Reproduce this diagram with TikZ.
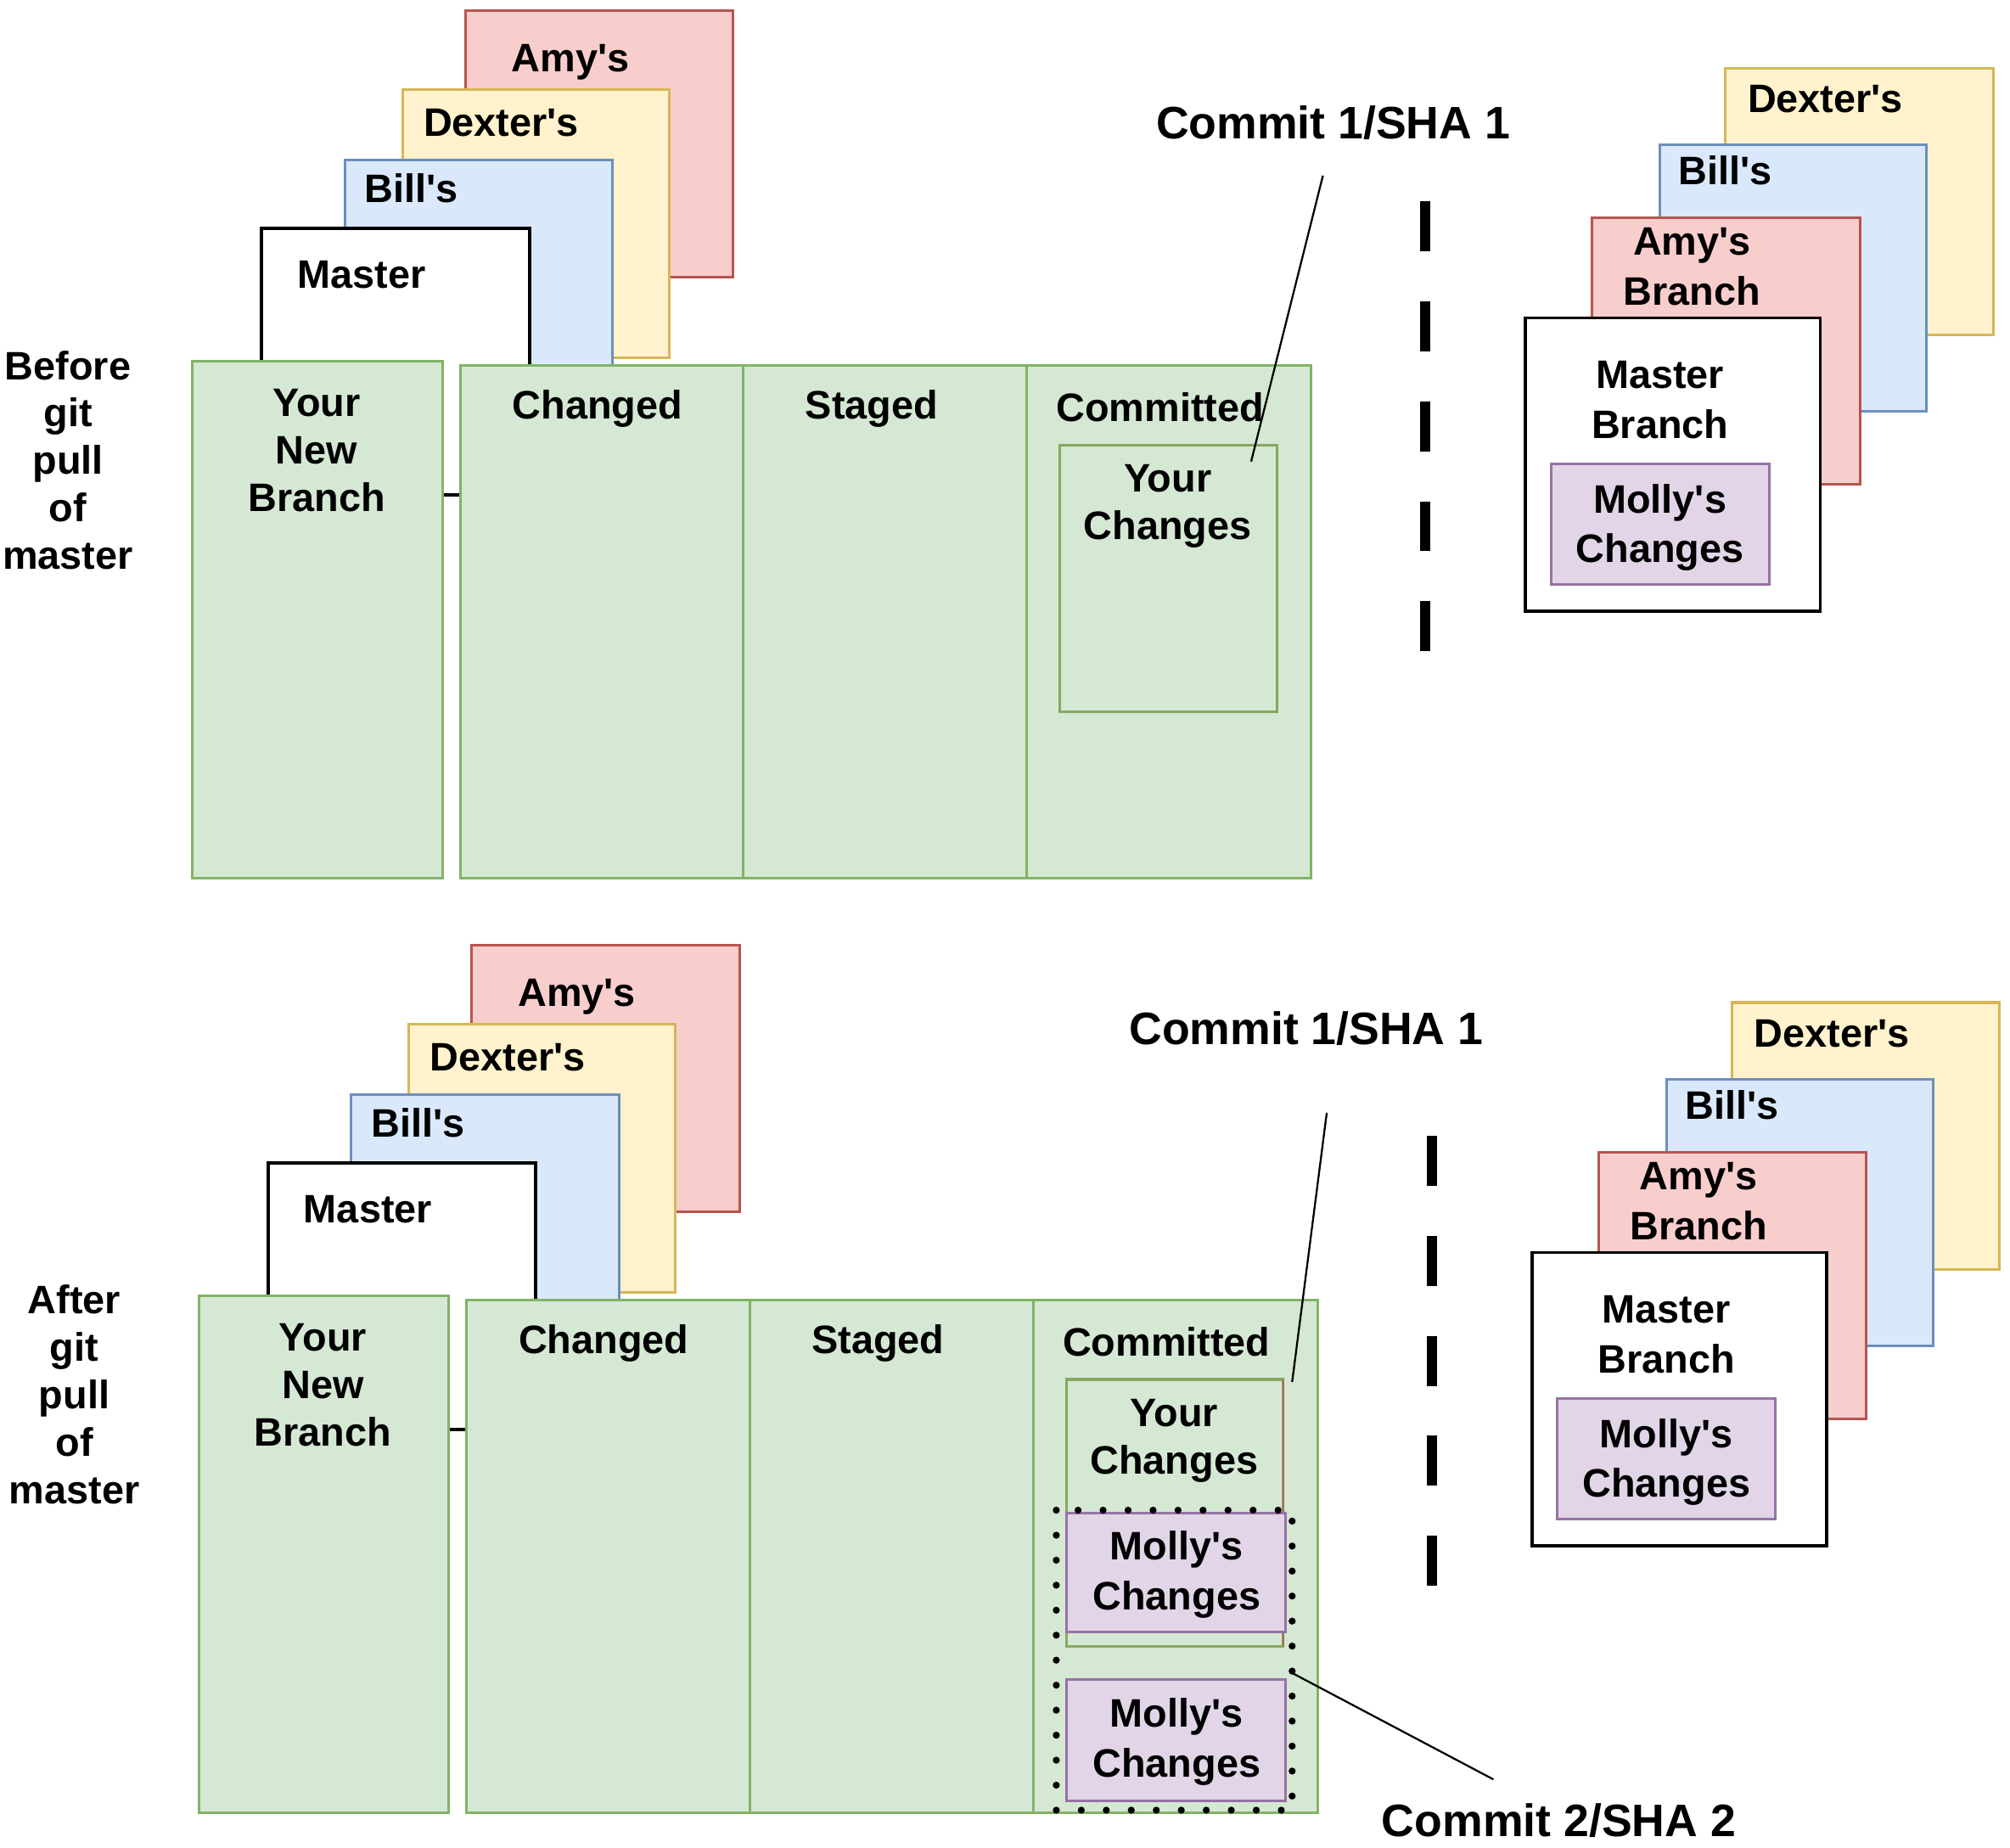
\documentclass[tikz,border=0pt]{standalone}
\usepackage{fontspec}
\setmainfont{Liberation Sans}[Ligatures=TeXOff]
\definecolor{redF}{HTML}{F8CECC}\definecolor{redD}{HTML}{B85450}
\definecolor{yelF}{HTML}{FFF2CC}\definecolor{yelD}{HTML}{D6B656}
\definecolor{bluF}{HTML}{DAE8FC}\definecolor{bluD}{HTML}{6C8EBF}
\definecolor{grnF}{HTML}{D5E8D4}\definecolor{grnD}{HTML}{82B366}
\definecolor{grnI}{HTML}{86A95E}
\definecolor{purF}{HTML}{E1D5E7}\definecolor{purD}{HTML}{9673A6}
\tikzset{
  card/.style={rectangle, anchor=north west, inner sep=0pt, outer sep=0pt, line width=2pt},
  redcard/.style={card, draw=redD, fill=redF},
  yelcard/.style={card, draw=yelD, fill=yelF},
  blucard/.style={card, draw=bluD, fill=bluF},
  grncard/.style={card, draw=grnD, fill=grnF},
  inncard/.style={card, draw=grnI, fill=grnF},
  purcard/.style={card, draw=purD, fill=purF},
  whtcard/.style={card, draw=black, fill=white, line width=2.5pt},
  % multi-line labels are placed by their last line
  lbl/.style={inner sep=0pt, align=center, font=\bfseries\fontsize{31}{37}\selectfont,
              text height=25pt, text depth=3pt},
  widelbl/.style={lbl, font=\bfseries\fontsize{31}{39}\selectfont},
  commitlbl/.style={inner sep=0pt, align=center, font=\bfseries\fontsize{35.5}{40}\selectfont,
              text height=28pt, text depth=3pt},
  leader/.style={draw=black, line width=1.5pt},
  divider/.style={draw=black, line width=8pt, dash pattern=on 39pt off 39pt},
  dotbox/.style={draw=black, line width=5.5pt, line cap=round, dash pattern=on 0pt off 19.5pt}
}
% One before/after panel: branch stacks, working-tree columns and remote stack
\newcommand\gitpanel[2]{%
  % local branches behind the working tree
  \node[redcard, minimum width=209, minimum height=208] (#1amy) at (363,8) {};
  \node[lbl] (#1amyL) at (445,45) {Amy's};
  \node[yelcard, minimum width=208, minimum height=209] (#1dex) at (314,70) {};
  \node[lbl] (#1dexL) at (391,95) {Dexter's};
  \node[blucard, minimum width=209, minimum height=208] (#1bil) at (269,125) {};
  \node[lbl] (#1bilL) at (321,147) {Bill's};
  \node[whtcard, minimum width=209, minimum height=208] (#1mas) at (204,178) {};
  \node[lbl] (#1masL) at (282,214) {Master};
  % working tree columns
  \node[grncard, minimum width=195, minimum height=403] (#1ynb) at (150,282) {};
  \node[lbl] (#1ynbL) at (247,388) {Your\\New\\Branch};
  \node[grncard, minimum width=221, minimum height=400] (#1chg) at (359,285) {};
  \node[lbl] (#1chgL) at (466,316) {Changed};
  \node[grncard, minimum width=221, minimum height=400] (#1stg) at (580,285) {};
  \node[lbl] (#1stgL) at (680,316) {Staged};
  \node[grncard, minimum width=222, minimum height=400] (#1cmt) at (801,285) {};
  \node[lbl] (#1cmtL) at (905,318) {Committed};
  \node[inncard, minimum width=169, minimum height=208] (#1yc) at (827,347) {};
  \node[lbl] (#1ycL) at (911,410) {Your\\Changes};
  % side caption
  \node[lbl] (#1side) at (53,433) {#2};
  % separator
  \coordinate (#1dvA) at (1112,157);
  \coordinate (#1dvB) at (1112,508);
  \draw[divider] (#1dvA) -- (#1dvB);
  % remote stack
  \node[yelcard, minimum width=209, minimum height=208] (#1rdex) at (1346,53) {};
  \node[lbl] (#1rdexL) at (1424,77) {Dexter's};
  \node[blucard, minimum width=208, minimum height=208] (#1rbil) at (1295,113) {};
  \node[lbl] (#1rbilL) at (1346,133) {Bill's};
  \node[redcard, minimum width=209, minimum height=208] (#1ramy) at (1242,170) {};
  \node[widelbl] (#1ramyL) at (1320,227) {Amy's\\Branch};
  \node[whtcard, minimum width=230, minimum height=229] (#1rmas) at (1190,248) {};
  \node[widelbl] (#1rmasL) at (1295,331) {Master\\Branch};
  \node[purcard, minimum width=170, minimum height=94] (#1rmol) at (1210,362) {};
  \node[widelbl] (#1rmolL) at (1295,428) {Molly's\\Changes};
}
\begin{document}
\begin{tikzpicture}[x=1pt,y=-1pt]
\useasboundingbox (0,0) rectangle (1568,1441);

% ---- before pulling master ----
\gitpanel{t}{Before\\git\\pull\\of\\master}
\node[commitlbl] (tc1) at (1040,96) {Commit 1/SHA 1};
\coordinate (tc1a) at (1032,137);
\coordinate (tc1b) at (976,360);
\draw[leader] (tc1a) -- (tc1b);

% ---- after pulling master ----
\begin{scope}[shift={(5,729)}]
\gitpanel{b}{After\\git\\pull\\of\\master}
\draw[draw=redD!80!grnI, line width=1.5pt] (byc.north east) -- (byc.south east);
\node[purcard, minimum width=171, minimum height=93] (bm1) at (827,451) {};
\node[widelbl] (bm1L) at (913,516) {Molly's\\Changes};
\node[purcard, minimum width=171, minimum height=95] (bm2) at (827,581) {};
\node[widelbl] (bm2L) at (913,646) {Molly's\\Changes};
\draw[dotbox] (819,449) rectangle (1003,683);
\coordinate (bdot) at (1003,576);
\end{scope}
\node[commitlbl] (bc1) at (1019,802) {Commit 1/SHA 1};
\coordinate (bc1a) at (1035,868);
\coordinate (bc1b) at (1008,1078);
\draw[leader] (bc1a) -- (bc1b);
\node[commitlbl] (bc2) at (1216,1420) {Commit 2/SHA 2};
\coordinate (bc2a) at (1165,1388);
\draw[leader] (bdot) -- (bc2a);
\end{tikzpicture}
\end{document}
